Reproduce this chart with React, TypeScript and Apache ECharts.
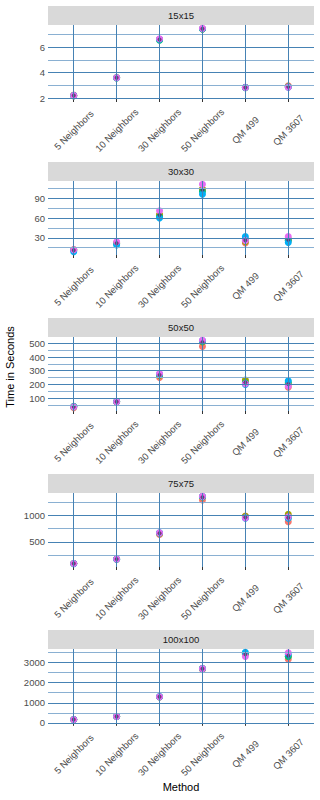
import React, { useEffect, useRef } from "react";
import * as echarts from "echarts";

const methods = ["5 Neighbors", "10 Neighbors", "30 Neighbors", "50 Neighbors", "QM 499", "QM 3607"];
const panelNames = ["15x15", "30x30", "50x50", "75x75", "100x100"];
const runColors = ["#F8766D", "#A3A500", "#00BF7D", "#00B0F6", "#E76BF3"];

// rows = methods, columns = runs (5 runs)
const times15 = [
  [2.25, 2.2, 2.2, 2.2, 2.2],
  [3.62, 3.6, 3.58, 3.6, 3.6],
  [6.62, 6.6, 6.55, 6.62, 6.66],
  [7.44, 7.44, 7.43, 7.45, 7.48],
  [2.86, 2.85, 2.82, 2.85, 2.84],
  [2.97, 2.9, 2.88, 2.87, 2.86],
];
const times30 = [
  [12, 12, 11, 9, 12],
  [22, 22, 21, 19, 24],
  [65, 65, 62, 60, 71],
  [103, 104, 100, 96, 111],
  [22, 24, 28, 32, 26],
  [26, 28, 26, 23, 32],
];
const times50 = [
  [30, 37, 40, 37, 37],
  [72, 73, 74, 73, 73],
  [250, 265, 270, 275, 280],
  [478, 510, 515, 520, 522],
  [225, 232, 212, 200, 205],
  [180, 205, 215, 226, 188],
];
const times75 = [
  [85, 85, 86, 84, 85],
  [170, 170, 172, 168, 171],
  [640, 660, 665, 670, 670],
  [1295, 1355, 1360, 1360, 1365],
  [990, 985, 960, 950, 955],
  [880, 1025, 960, 950, 975],
];
const times100 = [
  [160, 165, 165, 165, 165],
  [315, 318, 320, 315, 318],
  [1290, 1300, 1300, 1305, 1300],
  [2660, 2700, 2700, 2705, 2700],
  [3420, 3430, 3440, 3510, 3300],
  [3170, 3300, 3310, 3420, 3490],
];

const ticks15 = [2, 4, 6];
const ticks30 = [30, 60, 90];
const ticks50 = [100, 200, 300, 400, 500];
const ticks75 = [500, 1000];
const ticks100 = [0, 1000, 2000, 3000];

const panelData = [times15, times30, times50, times75, times100];
const panelTicks = [ticks15, ticks30, ticks50, ticks75, ticks100];

const FONT = "'Liberation Sans', Arial, sans-serif";
const GRID_LEFT = 48;
const GRID_W = 266;
const STRIP_H = 19;
const PLOT_H = 74;
const PERIOD = 156;
const FIRST_TOP = 6;

export default function App() {
  const ref = useRef<HTMLDivElement>(null);

  useEffect(() => {
    document.body.style.margin = "0";
    if (!ref.current) return;
    const chart = echarts.init(ref.current, null, { renderer: "svg" });

    const grids: any[] = [];
    const xAxes: any[] = [];
    const yAxes: any[] = [];
    const series: any[] = [];
    const graphics: any[] = [];
    const idx = methods.map((_, j) => j);

    panelData.forEach((data, p) => {
      const stripTop = FIRST_TOP + p * PERIOD;
      const plotTop = stripTop + STRIP_H;
      const all = data.flat();
      const dmin = Math.min(...all);
      const dmax = Math.max(...all);
      const r = dmax - dmin;
      const ymin = dmin - 0.05 * r;
      const ymax = dmax + 0.05 * r;
      const ticks = panelTicks[p];
      const step = ticks[1] - ticks[0];
      const minors: number[] = [];
      for (let v = ticks[0] - step / 2; v <= ymax; v += step) {
        if (v >= ymin) minors.push(v);
      }

      grids.push({ left: GRID_LEFT, width: GRID_W, top: plotTop, height: PLOT_H, containLabel: false });
      xAxes.push({
        type: "value",
        gridIndex: p,
        min: -0.6,
        max: 5.6,
        axisLine: { show: false },
        axisTick: { show: true, customValues: idx, length: 3, lineStyle: { color: "#333333", width: 1 } },
        axisLabel: {
          customValues: idx,
          rotate: 45,
          margin: 31,
          align: "center",
          verticalAlign: "middle",
          fontSize: 9.5,
          color: "#4D4D4D",
          fontFamily: FONT,
          formatter: (v: number) => methods[Math.round(v)] ?? "",
        },
        splitLine: { show: false },
      });
      yAxes.push({
        type: "value",
        gridIndex: p,
        min: ymin,
        max: ymax,
        axisLine: { show: false },
        axisTick: { show: true, customValues: ticks, length: 3, lineStyle: { color: "#333333", width: 1 } },
        axisLabel: {
          customValues: ticks,
          margin: 3,
          fontSize: 9.5,
          color: "#4D4D4D",
          fontFamily: FONT,
          formatter: (v: number) => String(v),
        },
        splitLine: { show: false },
      });

      // grid lines
      series.push({
        type: "scatter",
        xAxisIndex: p,
        yAxisIndex: p,
        data: [[0, ticks[0]]],
        symbolSize: 0,
        silent: true,
        z: 1,
        markLine: {
          silent: true,
          symbol: "none",
          label: { show: false },
          animation: false,
          data: [
            ...minors.map((v) => ({ yAxis: v, lineStyle: { color: "#8AB0D2", width: 1, type: "solid" } })),
            ...ticks.map((v) => ({ yAxis: v, lineStyle: { color: "#4682B4", width: 1, type: "solid" } })),
            ...idx.map((x) => ({ xAxis: x, lineStyle: { color: "#4682B4", width: 1, type: "solid" } })),
          ],
        },
      });

      runColors.forEach((c, k) => {
        series.push({
          type: "scatter",
          xAxisIndex: p,
          yAxisIndex: p,
          data: data.map((row, j) => [j, row[k]]),
          symbolSize: 7,
          itemStyle: { color: c, opacity: 1 },
          z: 2,
        });
      });
      series.push({
        type: "scatter",
        xAxisIndex: p,
        yAxisIndex: p,
        data: data.map((row, j) => [j, row.reduce((a, b) => a + b, 0) / row.length]),
        symbolSize: 4,
        itemStyle: { color: "#5A2A5E" },
        z: 3,
      });

      graphics.push({
        type: "rect",
        shape: { x: GRID_LEFT, y: stripTop, width: GRID_W, height: STRIP_H },
        style: { fill: "#D9D9D9" },
        z: 0,
      });
      graphics.push({
        type: "text",
        x: GRID_LEFT + GRID_W / 2,
        y: stripTop + STRIP_H / 2,
        style: {
          text: panelNames[p],
          fontSize: 9.5,
          fill: "#1A1A1A",
          fontFamily: FONT,
          align: "center",
          verticalAlign: "middle",
        },
      });
    });

    graphics.push({
      type: "text",
      x: GRID_LEFT + GRID_W / 2,
      y: 787,
      style: { text: "Method", fontSize: 11, fill: "#000000", fontFamily: FONT, align: "center", verticalAlign: "middle" },
    });
    graphics.push({
      type: "text",
      x: 10,
      y: 367,
      rotation: Math.PI / 2,
      style: { text: "Time in Seconds", fontSize: 11, fill: "#000000", fontFamily: FONT, align: "center", verticalAlign: "middle" },
    });

    chart.setOption({
      animation: false,
      backgroundColor: "#FFFFFF",
      grid: grids,
      xAxis: xAxes,
      yAxis: yAxes,
      series,
      graphic: graphics,
    });

    return () => chart.dispose();
  }, []);

  return <div ref={ref} style={{ width: 320, height: 800 }} />;
}
